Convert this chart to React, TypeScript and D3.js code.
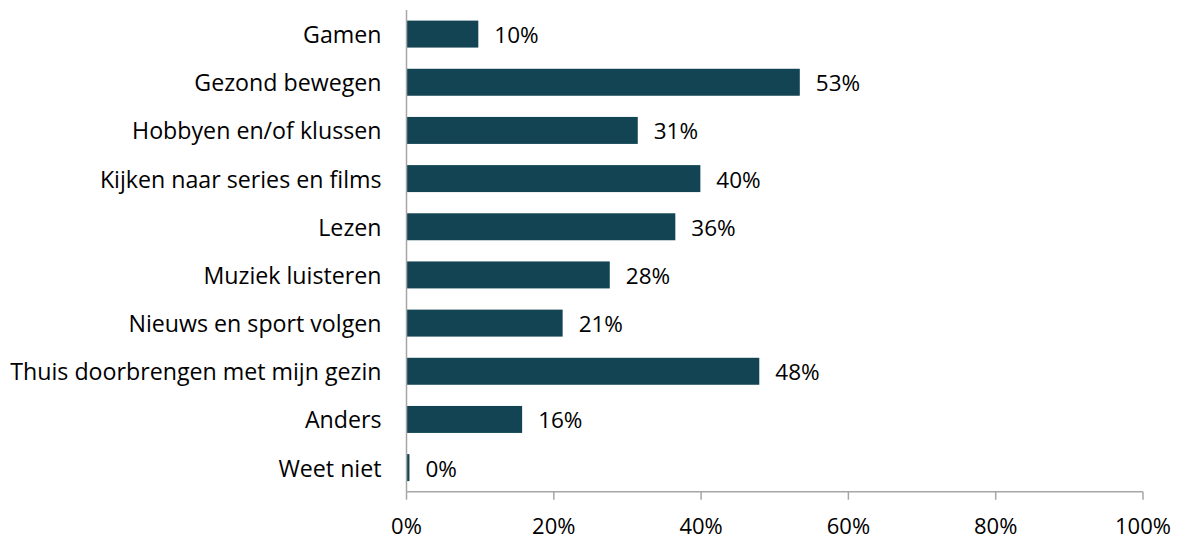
import React from "react";
import * as d3 from "d3";

const categories = [
  "Gamen",
  "Gezond bewegen",
  "Hobbyen en/of klussen",
  "Kijken naar series en films",
  "Lezen",
  "Muziek luisteren",
  "Nieuws en sport volgen",
  "Thuis doorbrengen met mijn gezin",
  "Anders",
  "Weet niet",
];
const values = [9.75, 53.4, 31.4, 39.9, 36.5, 27.6, 21.2, 47.9, 15.7, 0.4];
const valueLabels = ["10%", "53%", "31%", "40%", "36%", "28%", "21%", "48%", "16%", "0%"];
const ticks = [0, 20, 40, 60, 80, 100];

const W = 1180;
const H = 541;
const FONT = "'Open Sans', Lato, sans-serif";

export default function App() {
  const x = d3.scaleLinear().domain([0, 100]).range([406.5, 1143]);
  const y = d3.scaleBand<string>().domain(categories).range([10, 491.7]).paddingInner(0.44).paddingOuter(0.22);
  const axisY = 491.7;
  return (
    <svg width={W} height={H} style={{ position: "absolute", left: 0, top: 0 }}>
      <rect width={W} height={H} fill="#fff" />
      {categories.map((c, i) => (
        <g key={c}>
          <rect
            x={x(0)}
            y={y(c)!}
            width={x(values[i]) - x(0)}
            height={y.bandwidth()}
            fill="#124454"
          />
          <text
            x={x(values[i]) + 16}
            y={y(c)! + y.bandwidth() / 2 + 0.5}
            dominantBaseline="central"
            fontFamily={FONT}
            fontSize={22.5}
            fill="#000"
          >
            {valueLabels[i]}
          </text>
          <text
            x={381.5}
            y={y(c)! + y.bandwidth() / 2}
            dominantBaseline="central"
            textAnchor="end"
            fontFamily={FONT}
            fontSize={23.2}
            fill="#000"
          >
            {c}
          </text>
        </g>
      ))}
      <line x1={x(0)} x2={x(0)} y1={10} y2={axisY} stroke="#a6a6a6" strokeWidth={1.5} />
      <line x1={x(0)} x2={x(100)} y1={axisY} y2={axisY} stroke="#a6a6a6" strokeWidth={1.5} />
      {ticks.map((t) => (
        <g key={t}>
          <line x1={x(t)} x2={x(t)} y1={axisY} y2={axisY + 8} stroke="#a6a6a6" strokeWidth={1.5} />
          <text
            x={x(t)}
            y={525}
            textAnchor="middle"
            dominantBaseline="central"
            fontFamily={FONT}
            fontSize={22}
            fill="#000"
          >
            {t}%
          </text>
        </g>
      ))}
    </svg>
  );
}
